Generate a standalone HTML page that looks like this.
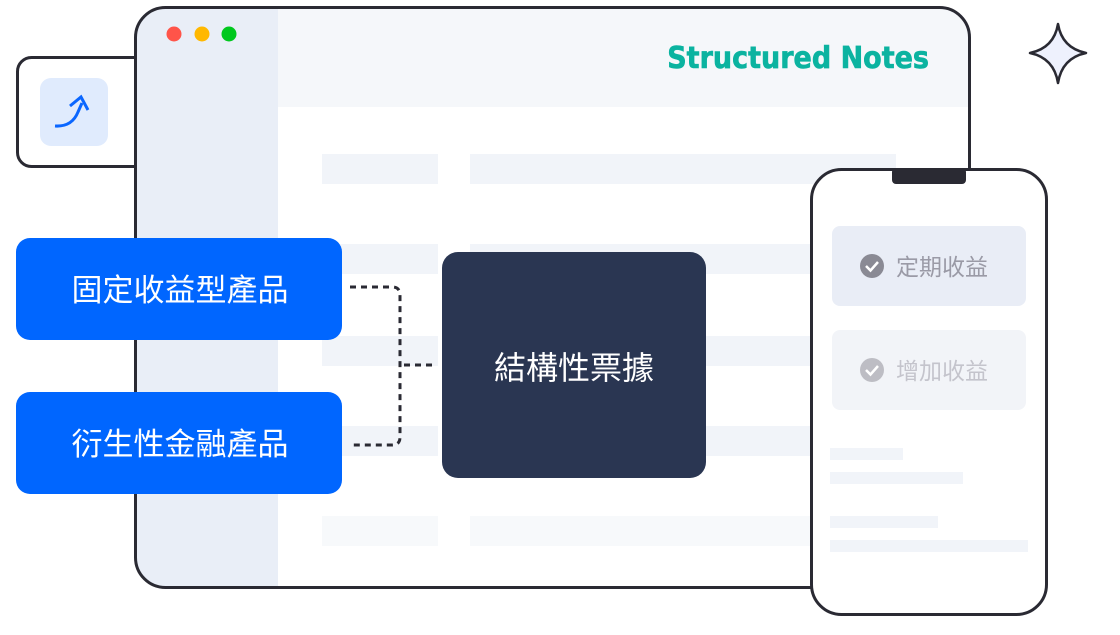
<!DOCTYPE html>
<html><head><meta charset="utf-8"><style>
body{margin:0;width:1120px;height:630px;overflow:hidden;background:#fff}
svg text{font-family:"Liberation Sans","Noto Sans CJK TC",sans-serif}
</style></head><body>
<svg width="1120" height="630" viewBox="0 0 1120 630" xmlns="http://www.w3.org/2000/svg">
<rect x="17.5" y="57.5" width="150" height="109" rx="14" fill="#fff" stroke="#2a2a33" stroke-width="3"/>
<rect x="40" y="78" width="68" height="68" rx="11" fill="#e0ebfd"/>
<path d="M55 126 Q72 127 78 112 L82 103" fill="none" stroke="#0a66ff" stroke-width="3"/>
<path d="M70 106 L81 97 L88 110" fill="none" stroke="#0a66ff" stroke-width="3"/>
<clipPath id="bc"><rect x="136" y="8" width="833" height="579" rx="30"/></clipPath>
<g clip-path="url(#bc)">
<rect x="136" y="8" width="833" height="579" fill="#fff"/>
<rect x="136" y="8" width="142" height="579" fill="#e9eef7"/>
<rect x="278" y="8" width="692" height="99" fill="#f5f7fa"/>
<g fill="#f1f4f9">
<rect x="322" y="154" width="116" height="30"/><rect x="470" y="154" width="426" height="30"/>
<rect x="322" y="244" width="116" height="30"/><rect x="470" y="244" width="450" height="30"/>
<rect x="322" y="336" width="116" height="30"/><rect x="470" y="336" width="450" height="30"/>
<rect x="322" y="426" width="116" height="30"/><rect x="470" y="426" width="450" height="30"/>
</g>
<g fill="#f7f9fb">
<rect x="322" y="516" width="116" height="30"/><rect x="470" y="516" width="450" height="30"/>
</g>
</g>
<rect x="135.5" y="7.5" width="834" height="580" rx="30" fill="none" stroke="#2a2a33" stroke-width="3"/>
<circle cx="174" cy="34" r="7.5" fill="#ff5449"/>
<circle cx="202" cy="34" r="7.5" fill="#ffb800"/>
<circle cx="229" cy="34" r="7.5" fill="#00c81e"/>
<text x="929" y="68" text-anchor="end" font-size="30" font-weight="bold" fill="#0bb3a0" stroke="#0bb3a0" stroke-width="0.6" style="font-family:'DejaVu Sans Condensed','Liberation Sans',sans-serif">Structured Notes</text>
<path d="M1058 24 Q1062 48 1086 53 Q1062 58 1058 83 Q1054 58 1030 53 Q1054 48 1058 24Z" fill="#eef1fd" stroke="#2a2a33" stroke-width="2.5" stroke-linejoin="round"/>
<g fill="none" stroke="#2a2a33" stroke-width="3" stroke-dasharray="6 5">
<path d="M350 287 H392 Q400 287 400 295 V437 Q400 445 392 445 H352"/>
<path d="M404 365 H436"/>
</g>
<rect x="16" y="238" width="326" height="102" rx="14" fill="#0066ff"/>
<rect x="16" y="392" width="326" height="102" rx="14" fill="#0066ff"/>
<text x="180" y="301" text-anchor="middle" font-size="31" fill="#fff">固定收益型產品</text>
<text x="180" y="455" text-anchor="middle" font-size="31" fill="#fff">衍生性金融產品</text>
<rect x="442" y="252" width="264" height="226" rx="16" fill="#2a3652"/>
<text x="574" y="379" text-anchor="middle" font-size="32" fill="#fff">結構性票據</text>
<rect x="811.5" y="169.5" width="235" height="445" rx="30" fill="#fff" stroke="#2a2a33" stroke-width="3"/>
<rect x="892" y="168" width="74" height="16" rx="4" fill="#2a2a33"/>
<rect x="832" y="226" width="194" height="80" rx="8" fill="#e9edf6"/>
<rect x="832" y="330" width="194" height="80" rx="8" fill="#f2f4f8"/>
<circle cx="872" cy="266" r="12" fill="#8a8a94"/>
<path d="M866 266 L870.5 270.5 L878 262" fill="none" stroke="#fff" stroke-width="2.5"/>
<text x="896" y="275" font-size="23" fill="#9a9aa6">定期收益</text>
<circle cx="872" cy="370" r="12" fill="#bdbdc4"/>
<path d="M866 370 L870.5 374.5 L878 366" fill="none" stroke="#fff" stroke-width="2.5"/>
<text x="896" y="379" font-size="23" fill="#c4c4cc">增加收益</text>
<g fill="#f1f4f9">
<rect x="830" y="448" width="73" height="12"/>
<rect x="830" y="472" width="133" height="12"/>
<rect x="830" y="516" width="108" height="12"/>
<rect x="830" y="540" width="198" height="12"/>
</g>
</svg>
</body></html>
